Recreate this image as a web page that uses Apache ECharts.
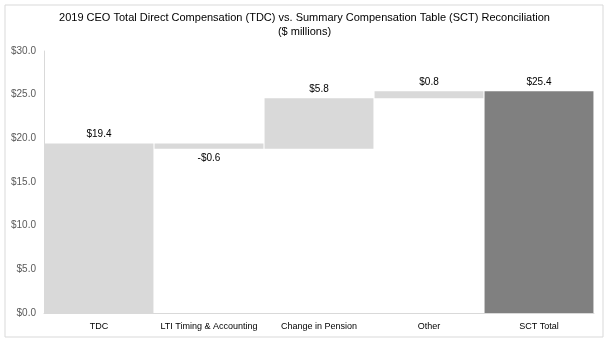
<!DOCTYPE html>
<html><head><meta charset="utf-8">
<script src="https://cdn.jsdelivr.net/npm/echarts@6/dist/echarts.min.js"></script>
<style>html,body{margin:0;padding:0;background:#fff}#c{width:609px;height:342px}</style>
</head><body><div id="c"></div>
<script>
var categories = ['TDC', 'LTI Timing & Accounting', 'Change in Pension', 'Other', 'SCT Total'];
var changes = [19.4, -0.6, 5.8, 0.8, 25.4];
var isTotal = [true, false, false, false, true];
var yTicks = [0, 5, 10, 15, 20, 25, 30];

var base = [], height = [], running = 0;
for (var i = 0; i < changes.length; i++) {
  if (isTotal[i]) { base.push(0); height.push(changes[i]); running = changes[i]; }
  else {
    var next = running + changes[i];
    base.push(Math.min(running, next));
    height.push(Math.abs(changes[i]));
    running = next;
  }
}
function fmt(v){ return (v < 0 ? '-$' : '$') + Math.abs(v).toFixed(1); }

var chart = echarts.init(document.getElementById('c'));
chart.setOption({
  animation: false,
  backgroundColor: '#fff',
  textStyle: { fontFamily: 'Liberation Sans, Arial, sans-serif' },
  title: {
    text: '2019 CEO Total Direct Compensation (TDC) vs. Summary Compensation Table (SCT) Reconciliation\n($ millions)',
    left: 'center', top: 6,
    textStyle: { fontSize: 11, fontWeight: 'normal', color: '#000', lineHeight: 14, fontFamily: 'Liberation Sans, Arial, sans-serif' }
  },
  graphic: [{ type: 'rect', shape: { x: 5, y: 5, width: 598, height: 332 }, style: { fill: 'none', stroke: '#d9d9d9', lineWidth: 1 }, silent: true, z: -1 }],
  grid: { left: 44, right: 15, top: 51, bottom: 29, containLabel: false },
  xAxis: {
    type: 'category', data: categories,
    axisLine: { lineStyle: { color: '#d9d9d9' } },
    axisTick: { show: false },
    axisLabel: { color: '#000', fontSize: 9, margin: 9, interval: 0 }
  },
  yAxis: {
    type: 'value', min: 0, max: 30, interval: 5,
    axisLine: { show: true, lineStyle: { color: '#d9d9d9' } },
    axisTick: { show: false },
    splitLine: { show: false },
    axisLabel: { color: '#595959', fontSize: 10, margin: 8, formatter: function(v){ return '$' + v.toFixed(1); } }
  },
  series: [
    { type: 'bar', stack: 'w', data: base, itemStyle: { color: 'transparent' }, barCategoryGap: '1%', silent: true },
    { type: 'bar', stack: 'w', barCategoryGap: '1%',
      data: height.map(function(h, i){
        return {
          value: h,
          itemStyle: { color: i === categories.length - 1 ? '#808080' : '#d9d9d9' },
          label: { show: true, position: changes[i] < 0 ? 'bottom' : 'top', distance: 4, color: '#000', fontSize: 10,
                   formatter: fmt(changes[i]) }
        };
      })
    }
  ]
});
</script></body></html>
